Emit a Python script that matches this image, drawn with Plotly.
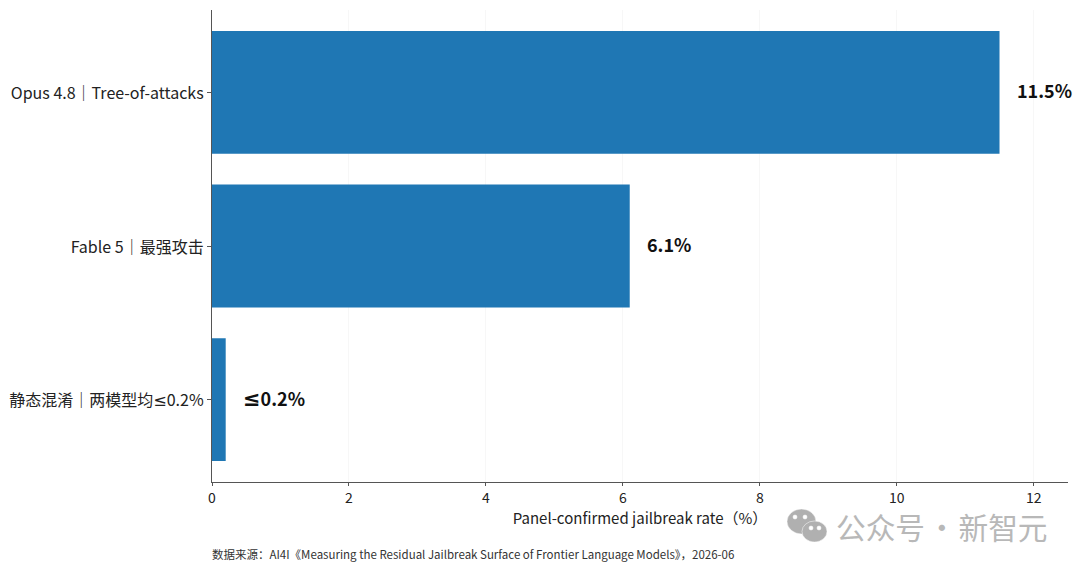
import plotly.graph_objects as go

FONT = "Noto Sans CJK SC"
LE_SPAN = '<span style="font-family:\'DejaVu Sans\'">≤</span>'
LE_SPAN_BIG = '<span style="font-family:\'DejaVu Sans\';font-size:21px">≤</span>'

# bottom to top, same order as the y axis
categories = ["静态混淆｜两模型均≤0.2%", "Fable 5｜最强攻击", "Opus 4.8｜Tree-of-attacks"]
rates = [0.2, 6.1, 11.5]
rate_labels = ["≤0.2%", "6.1%", "11.5%"]
x_ticks = [0, 2, 4, 6, 8, 10, 12]

fig = go.Figure()

fig.add_trace(go.Bar(
    x=rates,
    y=categories,
    orientation="h",
    width=0.8,
    marker=dict(color="#1f77b4", line=dict(color="#2a6f9f", width=0)),
    hoverinfo="skip",
))

# value labels next to the bar ends
for cat, val, lab in zip(categories, rates, rate_labels):
    fig.add_annotation(
        x=val, y=cat, text="<b>%s</b>" % lab.replace("≤", LE_SPAN_BIG),
        xanchor="left", yanchor="middle", xshift=15, yshift=2,
        showarrow=False,
        font=dict(family=FONT, size=18, color="#111111"),
    )

# source line
fig.add_annotation(
    xref="paper", yref="paper", x=0, y=-0.152, xanchor="left", yanchor="middle", xshift=-2,
    text="数据来源：AI4I《Measuring the Residual Jailbreak Surface of Frontier Language Models》，2026-06",
    showarrow=False,
    font=dict(family=FONT, size=11.5, color="#333333"),
)

# watermark
fig.add_annotation(
    xref="paper", yref="paper", x=0.727, y=-0.094, xanchor="left", yanchor="middle",
    text="公众号\u200a·\u200a新智元",
    showarrow=False,
    font=dict(family=FONT, size=29.7, color="#b8b8b8"),
)
for x0, x1, y0, y1, col in [
    (787, 816, 509, 534, "#b0b0b0"),
    (802, 827, 521, 542, "#b0b0b0"),
    (793, 797, 515, 519, "#ffffff"),
    (803, 807, 515, 519, "#ffffff"),
    (809, 813, 526, 530, "#ffffff"),
    (817, 821, 526, 530, "#ffffff"),
]:
    fig.add_shape(
        type="circle", xref="paper", yref="paper",
        x0=(x0 - 212) / 856, x1=(x1 - 212) / 856,
        y0=(482 - y0) / 472, y1=(482 - y1) / 472,
        fillcolor=col, line=dict(color="#ffffff", width=0.5),
    )

fig.update_layout(
    width=1080,
    height=569,
    margin=dict(l=212, r=12, t=10, b=87),
    paper_bgcolor="white",
    plot_bgcolor="white",
    showlegend=False,
    font=dict(family=FONT, color="#222222"),
)
fig.update_xaxes(
    range=[0, 12.5],
    tickvals=x_ticks,
    ticks="outside",
    ticklen=3,
    tickcolor="#555555",
    tickfont=dict(size=14),
    showline=True,
    linecolor="#555555",
    linewidth=1.3,
    showgrid=True,
    gridcolor="#f7f7f7",
    gridwidth=1,
    zeroline=False,
    title=dict(text="Panel-confirmed jailbreak rate（%）", font=dict(size=15), standoff=5),
)
fig.update_yaxes(
    range=[-0.537, 2.537],
    tickmode="array",
    tickvals=categories,
    ticktext=[c.replace("≤", LE_SPAN) for c in categories],
    ticklabelshift=1,
    ticks="outside",
    ticklen=4,
    tickcolor="#555555",
    tickfont=dict(size=16),
    showline=True,
    linecolor="#555555",
    linewidth=1.3,
    showgrid=False,
)

fig.write_html(
    "out.html",
    config=dict(displayModeBar=False),
    post_script="document.body.style.margin='0';",
)
